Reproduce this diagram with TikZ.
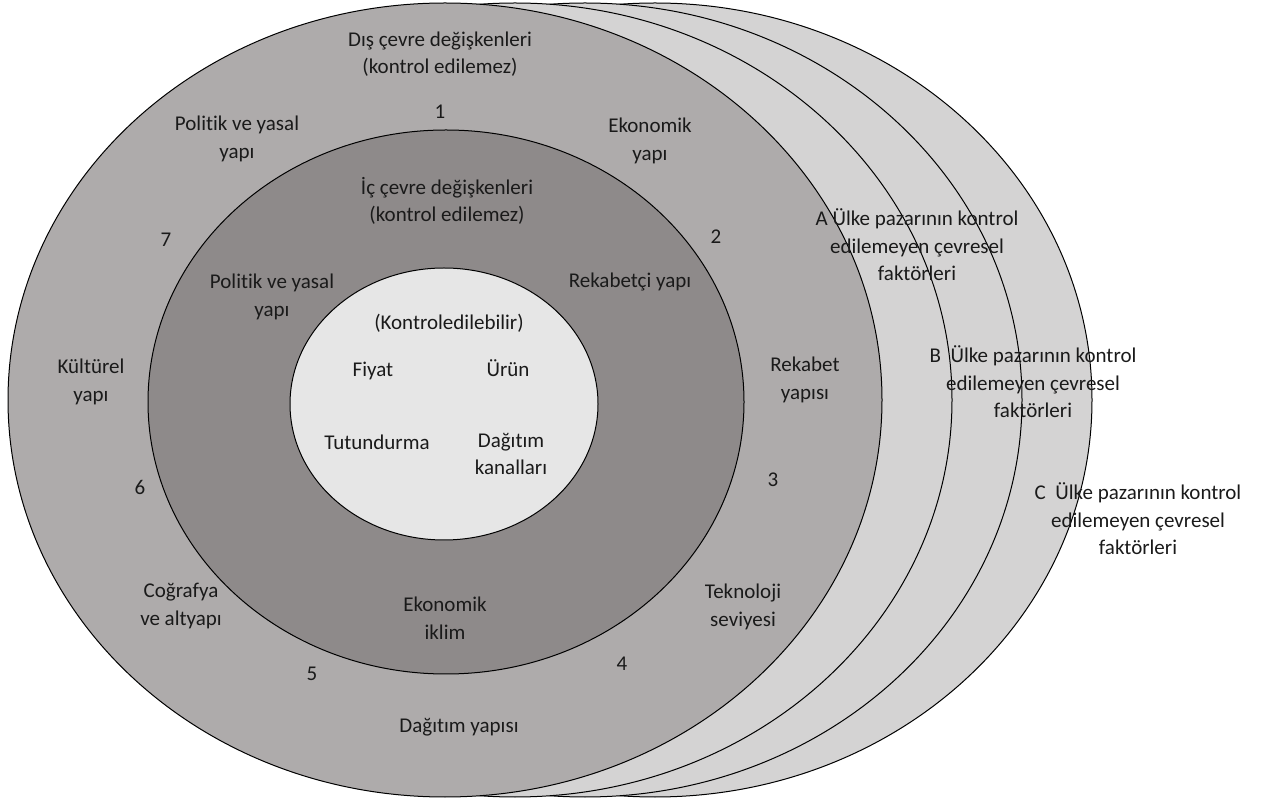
\documentclass[tikz,border=0pt]{standalone}
\usepackage{fontspec}
\setmainfont{Carlito}[Ligatures=NoCommon]
\usepackage{tikz}
\definecolor{Back}{HTML}{D4D3D3}
\definecolor{Outer}{HTML}{AEABAB}
\definecolor{Middle}{HTML}{8E8A8A}
\definecolor{Core}{HTML}{E6E6E6}
\definecolor{Ink}{HTML}{1A1A1A}

\begin{document}
\begin{tikzpicture}[x=1pt, y=1pt, every node/.style={font=\fontsize{21}{27.5}\selectfont, align=center, text=Ink, inner sep=0pt},
  ring/.style={draw=black, line width=1pt}]
  \useasboundingbox (0,0) rectangle (1264,801);
  % country markets behind
  \foreach \dx/\name in {210/C, 140/B, 70/A}
    \draw[ring, fill=Back] (445+\dx,401) ellipse [x radius=437, y radius=397];
  % outer, inner and core rings
  \draw[ring, fill=Outer]  (445,401) ellipse [x radius=437, y radius=397];
  \draw[ring, fill=Middle] (446,399) ellipse [x radius=298, y radius=272];
  \draw[ring, fill=Core]   (444,397) ellipse [x radius=154, y radius=136];

  % outer ring
  \node (dis) at (440,747) {Dış çevre değişkenleri\\(kontrol edilemez)};
  \node (n1) at (440,689) {1};
  \node (polOut) at (237,662) {Politik ve yasal\\yapı};
  \node (ekoOut) at (650,660) {Ekonomik\\yapı};
  \node (n7) at (166,561) {7};
  \node (n2) at (716,564) {2};
  \node (kultur) at (91,419) {Kültürel\\yapı};
  \node (rekYap) at (805,421) {Rekabet\\yapısı};
  \node (n6) at (140,314) {6};
  \node (n3) at (773,321) {3};
  \node (cog) at (181,195) {Coğrafya\\ve altyapı};
  \node (tek) at (743,194) {Teknoloji\\seviyesi};
  \node (n5) at (312,127) {5};
  \node (n4) at (622,137) {4};
  \node (dagYap) at (459,74) {Dağıtım yapısı};

  % inner ring
  \node (ic) at (447,600) {İç çevre değişkenleri\\(kontrol edilemez)};
  \node (polIn) at (272,504) {Politik ve yasal\\yapı};
  \node (rek) at (630,519) {Rekabetçi yapı};
  \node (ekoIk) at (445,183) {Ekonomik\\iklim};

  % core
  \node (kontrol) at (449,478) {(Kontroledilebilir)};
  \node (fiyat) at (373,430) {Fiyat};
  \node (urun) at (508,433) {Ürün};
  \node (tutun) at (377,359) {Tutundurma};
  \node (dagKan) at (511,347) {Dağıtım\\kanalları};

  % country labels
  \node (facA) at (917,556) {A Ülke pazarının kontrol\\edilemeyen çevresel\\faktörleri};
  \node (facB) at (1033,419) {B~~Ülke pazarının kontrol\\edilemeyen çevresel\\faktörleri};
  \node (facC) at (1138,282) {C~~Ülke pazarının kontrol\\edilemeyen çevresel\\faktörleri};
\end{tikzpicture}
\end{document}
